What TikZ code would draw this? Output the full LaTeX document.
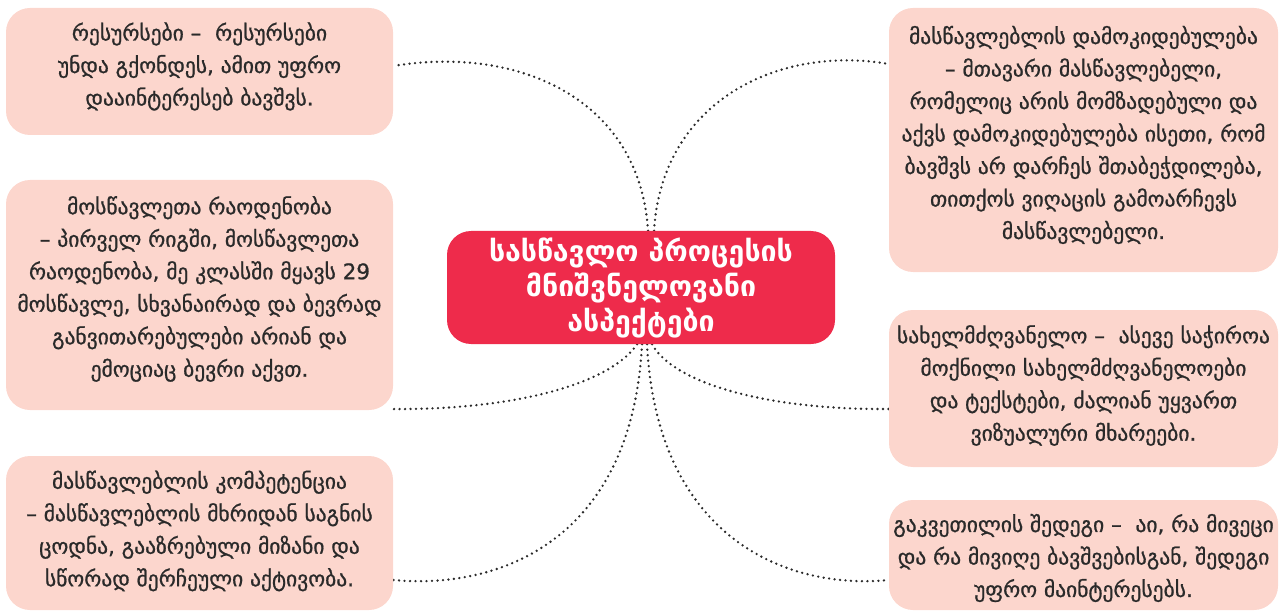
\documentclass[tikz,border=0pt]{standalone}
\usepackage{fontspec}
\setmainfont{DejaVu Sans}
\newfontfamily\bodyfont[FakeBold=0.9]{DejaVu Sans}
\usetikzlibrary{calc,backgrounds}
\definecolor{boxpink}{HTML}{FCD6CD}
\definecolor{centerred}{HTML}{EE2B4B}
\definecolor{txt}{HTML}{2A2A2A}
\begin{document}
\begin{tikzpicture}[x=1pt,y=-1pt,
  topicbox/.style={fill=boxpink, rounded corners=24pt, inner sep=0pt},
  topictext/.style={text=txt, align=center, inner sep=0pt,
    font=\bodyfont\fontsize{21.5}{32.5}\selectfont},
  central/.style={fill=centerred, rounded corners=24pt, text=white, align=center,
    inner sep=0pt, font=\fontsize{28.5}{35}\selectfont\bfseries},
  conn/.style={draw=txt, line width=2.6pt, dash pattern=on 0pt off 5.5pt, line cap=round}]
\useasboundingbox (0,0) rectangle (1284,612);
\node[topicbox, minimum width=387pt, minimum height=127pt] (l1) at (199.5,71.5) {};
\node[topictext] (t1) at ($(l1.center)+(0,-5)$)
  {რესურსები –~ რესურსები\\უნდა გქონდეს, ამით უფრო\\დააინტერესებ ბავშვს.};
\node[topicbox, minimum width=387pt, minimum height=230pt] (l2) at (199.5,295) {};
\node[topictext] (t2) at ($(l2.center)+(0,-6)$)
  {მოსწავლეთა რაოდენობა\\– პირველ რიგში, მოსწავლეთა\\რაოდენობა, მე კლასში მყავს 29\\მოსწავლე, სხვანაირად და ბევრად\\განვითარებულები არიან და\\ემოციაც ბევრი აქვთ.};
\node[topicbox, minimum width=387pt, minimum height=154pt] (l3) at (199.5,533) {};
\node[topictext] (t3) at ($(l3.center)+(0,-2)$)
  {მასწავლებლის კომპეტენცია\\– მასწავლებლის მხრიდან საგნის\\ცოდნა, გააზრებული მიზანი და\\სწორად შერჩეული აქტივობა.};
\node[topicbox, minimum width=389pt, minimum height=264pt] (r1) at (1083.5,140) {};
\node[topictext] (t4) at ($(r1.center)+(0,-5)$)
  {მასწავლებლის დამოკიდებულება\\– მთავარი მასწავლებელი,\\რომელიც არის მომზადებული და\\აქვს დამოკიდებულება ისეთი, რომ\\ბავშვს არ დარჩეს შთაბეჭდილება,\\თითქოს ვიღაცის გამოარჩევს\\მასწავლებელი.};
\node[topicbox, minimum width=389pt, minimum height=157pt] (r2) at (1083.5,388.5) {};
\node[topictext] (t5) at ($(r2.center)+(0,-3)$)
  {სახელმძღვანელო –~ ასევე საჭიროა\\მოქნილი სახელმძღვანელოები\\და ტექსტები, ძალიან უყვართ\\ვიზუალური მხარეები.};
\node[topicbox, minimum width=389pt, minimum height=110pt] (r3) at (1083.5,555) {};
\node[topictext] (t6) at ($(r3.center)+(0,3)$)
  {გაკვეთილის შედეგი –~ აი, რა მივეცი\\და რა მივიღე ბავშვებისგან, შედეგი\\უფრო მაინტერესებს.};
\node[central, minimum width=388pt, minimum height=113pt] (c) at (641,287.5)
  {სასწავლო პროცესის\\მნიშვნელოვანი\\ასპექტები};
\begin{pgfonlayer}{background}
\draw[conn] ($(c.north)+(7,0)$) .. controls (640,100) and (520,45) .. (l1.east |- 0,66);
\draw[conn] ($(c.north)+(13,0)$) .. controls (662,100) and (780,45) .. (r1.west |- 0,64);
\draw[conn] ($(c.south)+(-4,0)$) .. controls (612,382) and (520,410) .. (l2.east |- 0,409);
\draw[conn] ($(c.south)+(1,0)$) .. controls (632,540) and (500,590) .. (l3.east |- 0,580);
\draw[conn] ($(c.south)+(6,0)$) .. controls (657,540) and (789,590) .. (r3.west |- 0,580);
\draw[conn] ($(c.south)+(11,0)$) .. controls (674,384) and (769,410) .. (r2.west |- 0,409);
\end{pgfonlayer}
\end{tikzpicture}
\end{document}
